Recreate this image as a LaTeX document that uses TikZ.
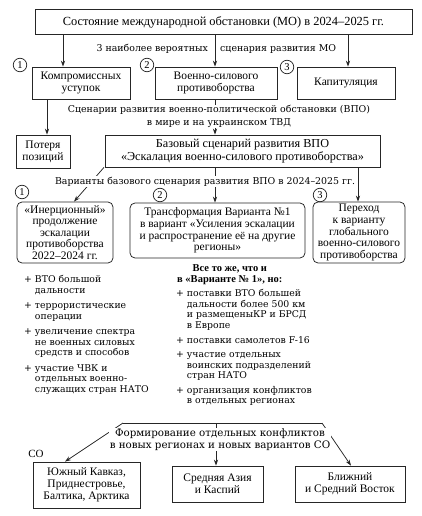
\documentclass[tikz,border=0pt]{standalone}
\usepackage{fontspec}
\setmainfont{Liberation Serif}
\newfontfamily\lblfont{DejaVu Serif}
\usetikzlibrary{arrows.meta}
\tikzset{
  ln/.style={line width=0.75pt, draw=black!85},
  arr/.style={ln, -{Stealth[length=6pt,width=4.2pt]}},
  box/.style={ln, draw, align=center, inner sep=0pt, font=\fontsize{11.5}{12}\selectfont},
  rbox/.style={box, rounded corners=5pt, font=\fontsize{11.5}{11.6}\selectfont},
  lbl/.style={align=center, inner sep=1pt, font=\lblfont\fontsize{9.4}{12.5}\selectfont},
  num/.style={ln, draw, circle, minimum size=13.5pt, inner sep=0pt, font=\fontsize{10.5}{10.5}\selectfont},
  lst/.style={anchor=north west, inner sep=0pt, font=\lblfont\fontsize{9.3}{10.4}\selectfont},
}
\begin{document}
\begin{tikzpicture}[x=1pt,y=-1pt]
\useasboundingbox (0,0) rectangle (421,516);
% top
\node[box, minimum width=377pt, minimum height=25pt, font=\fontsize{12.4}{12.4}\selectfont] (top) at (223.5,22) {Состояние международной обстановки (МО) в 2024–2025 гг.};
\node[box, minimum width=98pt, minimum height=32pt] (k1) at (81,83) {Компромиссных\\уступок};
\node[box, minimum width=122pt, minimum height=32pt] (k2) at (216,83) {Военно-силового\\противоборства};
\node[box, minimum width=98pt, minimum height=32pt] (k3) at (346,83) {Капитуляция};
\node[num] (n1) at (20,65) {1};
\node[num] (n2) at (147,65) {2};
\node[num] (n3) at (287,67) {3};
\coordinate (xa) at (63,0);
\coordinate (xb) at (215,0);
\coordinate (xc) at (348,0);
\draw[arr] (top.south -| xa) -- (k1.north -| xa);
\draw[arr] (top.south -| xb) -- (k2.north -| xb);
\draw[arr] (top.south -| xc) -- (k3.north -| xc);
\node[lbl, anchor=east] (l3a) at (209,49) {3 наиболее вероятных};
\node[lbl, anchor=west] (l3b) at (219,49) {сценария развития МО};
% second level
\node[box, minimum width=54pt, minimum height=33pt] (pot) at (43,151.5) {Потеря\\позиций};
\node[box, minimum width=275pt, minimum height=32pt, font=\fontsize{12.2}{12.6}\selectfont] (base) at (242.5,151) {Базовый сценарий развития ВПО\\«Эскалация военно-силового противоборства»};
\coordinate (xp) at (47,0);
\draw[arr] (k1.south -| xp) -- (pot.north -| xp);
\draw[arr] (k2.south -| xb) -- (base.north -| xb);
\node[lbl, fill=white, inner sep=0.5pt] (lvpo) at (219,116.5) {Сценарии развития военно-политической обстановки (ВПО)\\в мире и на украинском ТВД};
% variants
\node[rbox, minimum width=96pt, minimum height=61pt] (v1) at (65,232.5) {«Инерционный»\\продолжение\\эскалации\\противоборства\\2022–2024 гг.};
\node[rbox, minimum width=175pt, minimum height=55pt] (v2) at (217.5,230.5) {Трансформация Варианта №1\\в вариант «Усиления эскалации\\и распространение её на другие\\регионы»};
\node[rbox, minimum width=92pt, minimum height=61pt] (v3) at (359,232.5) {Переход\\к варианту\\глобального\\военно-силового\\противоборства};
\node[num] (m1) at (22,192) {1};
\node[num] (m2) at (160,195) {2};
\node[num] (m3) at (320,195) {3};
\coordinate (s1) at (104,0);
\coordinate (e1) at (74,0);
\coordinate (xr) at (358,0);
\draw[arr] (base.south -| s1) -- (v1.north -| e1);
\draw[arr] (base.south -| xb) -- (v2.north -| xb);
\draw[arr] (base.south -| xr) -- (v3.north -| xr);
\node[lbl, fill=white, inner sep=0.5pt] (lvar) at (205,181.5) {Варианты базового сценария развития ВПО в 2024–2025 гг.};
% lists
\node[lst] (list1) at (24,275.5) {\begin{tabular}{@{}l@{\hspace{3pt}}l@{}}
+ & ВТО большой\\ & дальности\\[5.2pt]
+ & террористические\\ & операции\\[5.2pt]
+ & увеличение спектра\\ & не военных силовых\\ & средств и способов\\[5.2pt]
+ & участие ЧВК и\\ & отдельных военно-\\ & служащих стран НАТО
\end{tabular}};
\node[anchor=north west, inner sep=0pt, align=left, font=\bfseries\fontsize{10.5}{10.5}\selectfont] (hdr) at (177,264.5) {\hspace*{15.5pt}Все то же, что и\\в «Варианте № 1», но:};
\node[lst] (list2) at (176,289.5) {\begin{tabular}{@{}l@{\hspace{3pt}}l@{}}
+ & поставки ВТО большей\\ & дальности более 500 км\\ & и размещеныКР и БРСД\\ & в Европе\\[4.6pt]
+ & поставки самолетов F-16\\[4.2pt]
+ & участие отдельных\\ & воинских подразделений\\ & стран НАТО\\[4.6pt]
+ & организация конфликтов\\ & в отдельных регионах
\end{tabular}};
% bottom
\node[box, minimum width=107pt, minimum height=46pt] (ba) at (86.5,485) {Южный Кавказ,\\Приднестровье,\\Балтика, Арктика};
\node[box, minimum width=91pt, minimum height=36pt] (bb) at (217.5,484) {Средняя Азия\\и Каспий};
\node[box, minimum width=110pt, minimum height=36pt] (bc) at (350,484) {Ближний\\и Средний Восток};
\coordinate (tl) at (123,423);
\coordinate (tr) at (322,423);
\coordinate (ea) at (65,0);
\coordinate (ec) at (351,0);
\coordinate (xm) at (216,0);
\draw[ln] (tl) -- (tr);
\draw[arr] (tl) -- (ba.north -| ea);
\draw[arr] (tr) -- (bc.north -| ec);
\draw[arr] (tl -| xm) -- (bb.north -| xm);
\node[lbl, fill=white, inner sep=0.5pt, font=\lblfont\fontsize{10.3}{12.5}\selectfont] (lform) at (220,439.5) {Формирование отдельных конфликтов\\в новых регионах и новых вариантов СО};
\node[inner sep=0pt, font=\fontsize{11}{11}\selectfont] (co) at (36,454) {СО};
\end{tikzpicture}
\end{document}
